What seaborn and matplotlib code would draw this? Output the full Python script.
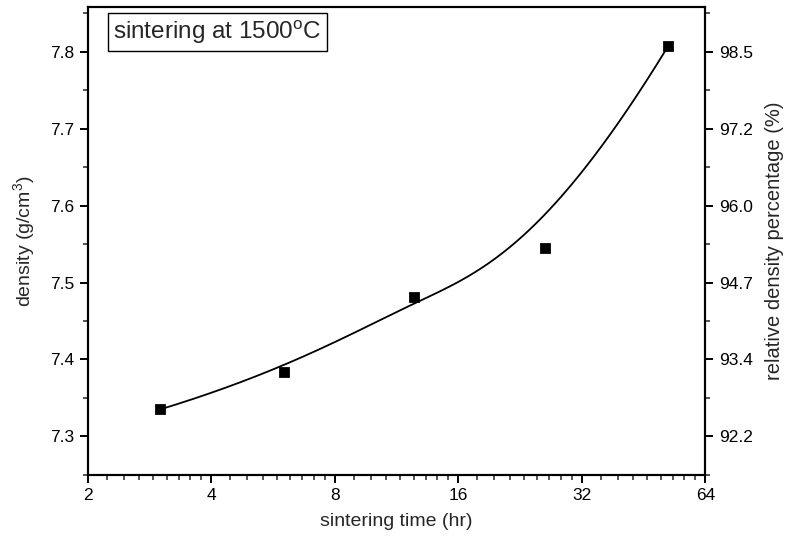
import numpy as np
import pandas as pd
import matplotlib
matplotlib.use("Agg")
import matplotlib.pyplot as plt
import matplotlib.ticker as mticker
import seaborn as sns

# data
time_hr = [3, 6, 12.5, 26, 52]
density = [7.335, 7.384, 7.481, 7.545, 7.808]
x_ticks = [2, 4, 8, 16, 32, 64]
y_ticks = [7.3, 7.4, 7.5, 7.6, 7.7, 7.8]
pct_labels = ["92.2", "93.4", "94.7", "96.0", "97.2", "98.5"]
theo_density = 7.92

sns.set_style("ticks")
plt.rcParams['font.family'] = ['Liberation Sans', 'DejaVu Sans']
plt.rcParams['mathtext.fontset'] = 'custom'
plt.rcParams['mathtext.rm'] = 'Liberation Sans'

df = pd.DataFrame({"time": time_hr, "density": density})


def bspline(ctrl, k=3, n=300):
    # clamped B-spline with the data points as control points (Cox-de Boor)
    m = len(ctrl)
    inner = np.linspace(0, 1, m - k + 1)
    knots = np.concatenate([[0] * k, inner, [1] * k])
    t = np.linspace(0, 1, n)
    t[-1] -= 1e-9
    B = np.zeros((n, len(knots) - 1))
    for i in range(len(knots) - 1):
        B[:, i] = (t >= knots[i]) & (t < knots[i + 1])
    for d in range(1, k + 1):
        Bn = np.zeros((n, len(knots) - d - 1))
        for i in range(len(knots) - d - 1):
            a = knots[i + d] - knots[i]
            b = knots[i + d + 1] - knots[i + 1]
            left = (t - knots[i]) / a * B[:, i] if a > 0 else 0
            right = (knots[i + d + 1] - t) / b * B[:, i + 1] if b > 0 else 0
            Bn[:, i] = left + right
        B = Bn
    return B @ ctrl


ctrl = np.column_stack([np.log2(df["time"]), df["density"]])
curve = bspline(ctrl)
fit = pd.DataFrame({"time": 2 ** curve[:, 0], "density": curve[:, 1]})

fig = plt.figure(figsize=(7.98, 5.56), dpi=100)
ax = fig.add_axes([0.110, 0.146, 0.774, 0.841])

sns.lineplot(data=fit, x="time", y="density", color="black", lw=1.3, sort=False, ax=ax)
sns.scatterplot(data=df, x="time", y="density", marker="s", s=50, color="black",
                edgecolor="black", ax=ax, zorder=5)

ax.set_xscale("log", base=2)
ax.set_xlim(2, 64)
ax.set_ylim(7.25, 7.858)
ax.xaxis.set_major_locator(mticker.FixedLocator(x_ticks))
ax.xaxis.set_major_formatter(mticker.FixedFormatter([str(v) for v in x_ticks]))
ax.xaxis.set_minor_locator(mticker.LogLocator(base=2, subs=1 + np.arange(1, 9) / 9, numticks=20))
ax.xaxis.set_minor_formatter(mticker.NullFormatter())
ax.set_yticks(y_ticks)
ax.set_yticklabels([f"{v:.1f}" for v in y_ticks])
ax.yaxis.set_minor_locator(mticker.MultipleLocator(0.05))

ax.set_xlabel("sintering time (hr)", fontsize=14, labelpad=7)
ax.set_ylabel("density (g/cm$^3$)", fontsize=14, labelpad=9)

ax2 = ax.twinx()
lo, hi = ax.get_ylim()
ax2.set_ylim(lo / theo_density * 100, hi / theo_density * 100)
ax2.set_yticks([v / theo_density * 100 for v in y_ticks])
ax2.set_yticklabels(pct_labels)
ax2.set_yticks([(v + 0.05) / theo_density * 100 for v in [7.2] + y_ticks], minor=True)
ax2.set_ylabel("relative density percentage (%)", fontsize=14.5, labelpad=9)

for a in (ax, ax2):
    for s in a.spines.values():
        s.set_visible(True)
        s.set_linewidth(1.5)
        s.set_color("black")
    a.tick_params(which="major", direction="out", length=6, width=1.4, labelsize=12.5, colors="black")
    a.tick_params(which="minor", direction="out", length=3.5, width=1.1)
ax2.tick_params(axis="y", which="both", right=True, left=False)
ax.tick_params(axis="y", which="both", left=True, right=False)

ax.text(0.041, 0.977, "sintering at 1500$^{\\mathrm{o}}$C", transform=ax.transAxes,
        fontsize=17.5, va="top", ha="left",
        bbox=dict(boxstyle="square,pad=0.22", fc="white", ec="black", lw=1.0))

fig.savefig("out.png", dpi=100)
